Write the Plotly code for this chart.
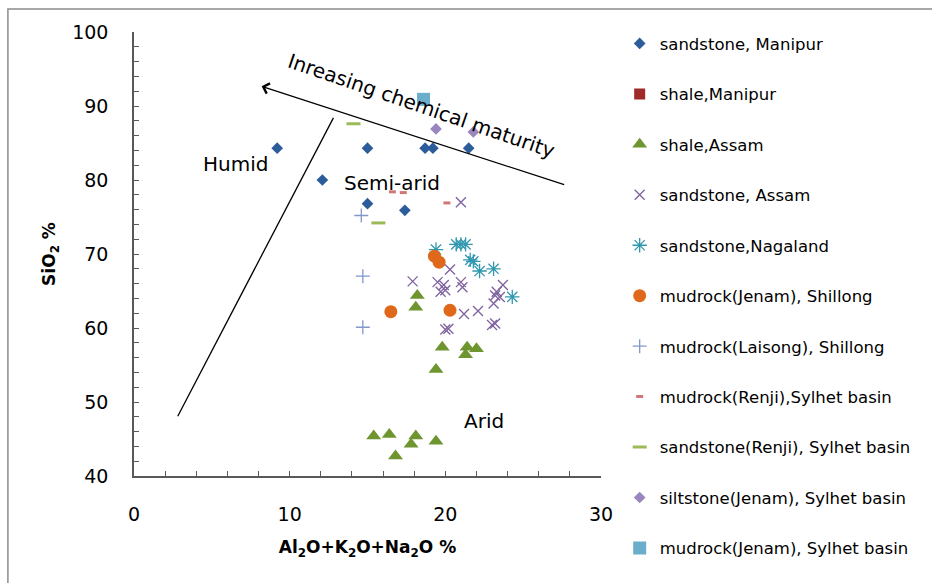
import plotly.graph_objects as go

FONT = "DejaVu Sans"

# ---- data ----
sm_x = [9.2, 12.1, 15.0, 18.7, 19.2, 21.5, 15.0, 17.4]
sm_y = [84.3, 80.0, 84.3, 84.3, 84.3, 84.3, 76.8, 75.9]

shm_x = []
shm_y = []

sha_x = [18.2, 18.1, 19.8, 21.4, 22.0, 21.3, 19.4, 15.4, 16.4, 18.1, 17.8, 19.4, 16.8]
sha_y = [64.4, 62.8, 57.4, 57.4, 57.2, 56.4, 54.4, 45.4, 45.6, 45.4, 44.3, 44.7, 42.7]

sa_x = [21.0, 17.9, 20.3, 19.5, 19.9, 19.7, 20.0, 21.0, 21.1, 23.7, 23.2, 23.5, 23.1,
        23.3, 21.2, 22.1, 20.2, 20.0, 23.2, 23.0]
sa_y = [77.0, 66.3, 67.9, 66.2, 65.8, 64.9, 65.1, 66.2, 65.5, 65.8, 64.4, 64.2, 63.3,
        64.9, 61.9, 62.3, 59.9, 59.8, 60.6, 60.4]

sn_x = [19.4, 20.7, 21.0, 21.3, 21.6, 21.8, 22.2, 23.1, 24.3]
sn_y = [70.6, 71.3, 71.3, 71.3, 69.2, 69.0, 67.7, 68.0, 64.2]

mjs_x = [19.3, 19.6, 16.5, 20.3]
mjs_y = [69.7, 68.9, 62.2, 62.4]

mls_x = [14.6, 14.7, 14.7]
mls_y = [75.2, 67.0, 60.1]

mrs_x = [16.6, 17.3, 20.1]
mrs_y = [78.4, 78.3, 76.9]

srs_x = [14.1, 15.7]
srs_y = [87.6, 74.2]

sjs_x = [19.4, 21.8]
sjs_y = [86.9, 86.5]

mjsy_x = [18.6]
mjsy_y = [90.9]

names = [
    "sandstone, Manipur", "shale,Manipur", "shale,Assam", "sandstone, Assam",
    "sandstone,Nagaland", "mudrock(Jenam), Shillong", "mudrock(Laisong), Shillong",
    "mudrock(Renji),Sylhet basin", "sandstone(Renji), Sylhet basin",
    "siltstone(Jenam), Sylhet basin", "mudrock(Jenam), Sylhet basin",
]

series = [
    (sm_x, sm_y, dict(symbol="diamond", size=9, color="#2C5D9A")),
    (shm_x, shm_y, dict(symbol="square", size=11, color="#9E2A2A")),
    (sha_x, sha_y, dict(symbol="triangle-up", size=13, color="#6F9530")),
    (sa_x, sa_y, dict(symbol="x-thin", size=10, color="#7E62A0", line=dict(color="#7E62A0", width=1.3))),
    (sn_x, sn_y, dict(symbol="asterisk", size=12, color="#3198B0", line=dict(color="#3198B0", width=1.3))),
    (mjs_x, mjs_y, dict(symbol="circle", size=13, color="#E0681B")),
    (mls_x, mls_y, dict(symbol="cross-thin", size=10, color="#8298CC", line=dict(color="#8298CC", width=1.3))),
    (mrs_x, mrs_y, dict(symbol="line-ew", size=5, color="#D07878", line=dict(color="#D07878", width=3))),
    (srs_x, srs_y, dict(symbol="line-ew", size=10, color="#9BBB59", line=dict(color="#9BBB59", width=3))),
    (sjs_x, sjs_y, dict(symbol="diamond", size=9, color="#9A86BE")),
    (mjsy_x, mjsy_y, dict(symbol="square", size=13, color="#6AAECC")),
]

fig = go.Figure()
for i, (nm, (xs, ys, mk)) in enumerate(zip(names, series)):
    fig.add_trace(go.Scatter(
        x=xs if xs else [None], y=ys if ys else [None], mode="markers", name=nm,
        legendgroup=f"g{i}", marker=mk, cliponaxis=False,
    ))

axis_common = dict(
    showline=True, linecolor="#595959", linewidth=1.5, showgrid=False, zeroline=False,
    ticks="inside", ticklen=5, tickwidth=1.2, tickcolor="#595959",
    minor=dict(ticks="inside", ticklen=5, tickwidth=1.2, tickcolor="#595959", dtick=2),
    tickfont=dict(family=FONT, size=19, color="#000"),
)

fig.update_xaxes(range=[0, 30], dtick=10, tick0=0, ticklabelstandoff=20,
                 title=dict(text="Al<sub>2</sub>O+K<sub>2</sub>O+Na<sub>2</sub>O %",
                            font=dict(family=FONT, size=17, color="#000", weight="bold"),
                            standoff=18),
                 **axis_common)
fig.update_yaxes(range=[40, 100], dtick=10, tick0=0, ticklabelstandoff=20,
                 title=dict(text="SiO<sub>2</sub> %",
                            font=dict(family=FONT, size=17, color="#000", weight="bold"),
                            standoff=12),
                 **axis_common)

# annotations
ann_font = dict(family=FONT, size=20, color="#000")
fig.add_annotation(x=6.5, y=82.2, text="Humid", showarrow=False, font=ann_font)
fig.add_annotation(x=16.6, y=79.6, text="Semi-arid", showarrow=False, font=ann_font)
fig.add_annotation(x=22.5, y=47.5, text="Arid", showarrow=False, font=ann_font)
fig.add_annotation(x=18.5, y=90.0, text="Inreasing chemical maturity", showarrow=False,
                   textangle=19, font=ann_font)
# arrow
fig.add_annotation(x=8.2, y=92.66, ax=27.73, ay=79.3, xref="x", yref="y", axref="x", ayref="y",
                   text="", showarrow=True, arrowhead=4, arrowsize=1.6, arrowwidth=1.3,
                   arrowcolor="#000")
# boundary line
fig.add_shape(type="line", x0=2.81, y0=48.07, x1=12.81, y1=88.4, xref="x", yref="y",
              line=dict(color="#000", width=1.3))
# outer frame
fig.add_shape(type="rect", xref="paper", yref="paper", x0=-0.27, y0=-0.3, x1=1.75, y1=1.052,
              line=dict(color="#8C8C8C", width=1.5), fillcolor="rgba(0,0,0,0)", layer="below")

fig.update_layout(
    width=932, height=583,
    margin=dict(l=134, r=331, t=32, b=107),
    paper_bgcolor="white", plot_bgcolor="white",
    font=dict(family=FONT, color="#000"),
    showlegend=True,
    legend=dict(x=1.04, y=1.013, xanchor="left", yanchor="top",
                font=dict(family=FONT, size=16.5, color="#000"),
                tracegroupgap=26, itemwidth=30, bgcolor="rgba(0,0,0,0)",
                maxheight=583),
)

fig.write_html("out.html")
